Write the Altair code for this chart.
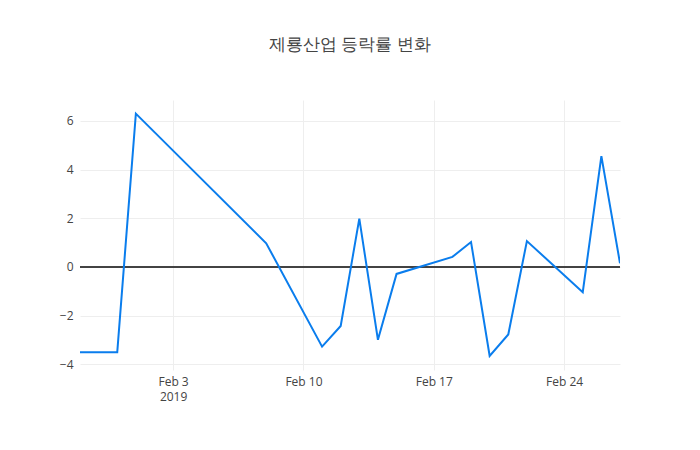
import altair as alt
import pandas as pd

dates = ["2019-01-29", "2019-01-31", "2019-02-01", "2019-02-08", "2019-02-11",
         "2019-02-12", "2019-02-13", "2019-02-14", "2019-02-15", "2019-02-18",
         "2019-02-19", "2019-02-20", "2019-02-21", "2019-02-22", "2019-02-25",
         "2019-02-26", "2019-02-27"]
values = [-3.51, -3.51, 6.30, 0.97, -3.28,
          -2.43, 1.98, -3.00, -0.29, 0.41,
          1.02, -3.66, -2.78, 1.06, -1.04,
          4.55, 0.15]
title_text = "제룡산업 등락률 변화"

df = pd.DataFrame({"date": dates, "value": values})

FONT = "Open Sans"
x_scale = alt.Scale(type="utc",
                    domain=[alt.DateTime(year=2019, month=1, date=29, utc=True),
                            alt.DateTime(year=2019, month=2, date=27, utc=True)],
                    nice=False)
y_scale = alt.Scale(domain=[-4.24, 6.86], nice=False, zero=False)

tick_vals = [alt.DateTime(year=2019, month=2, date=d, utc=True) for d in (3, 10, 17, 24)]

line = alt.Chart(df).mark_line(color="#0a7ded", strokeWidth=2, clip=True).encode(
    x=alt.X("date:T", scale=x_scale, title=None,
            axis=alt.Axis(values=tick_vals, grid=True, gridColor="#eeeeee", domain=False,
                          ticks=False, labelPadding=6, labelFont=FONT, labelFontSize=12,
                          labelColor="#444444", labelLineHeight=15,
                          labelExpr="utcdate(datum.value) == 3 ? ['Feb 3', '2019'] : utcFormat(datum.value, '%b %-d')")),
    y=alt.Y("value:Q", scale=y_scale, title=None,
            axis=alt.Axis(values=[-4, -2, 0, 2, 4, 6], grid=True, gridColor="#eeeeee",
                          domain=False, ticks=False, labelPadding=7, labelFont=FONT,
                          labelFontSize=12, labelColor="#444444",
                          labelExpr="replace(datum.label, '-', '\u2212')")),
)

zero = alt.Chart(df).mark_rule(color="#444444", strokeWidth=1).encode(
    y=alt.datum(0, scale=y_scale)
)

chart = alt.layer(zero, line).properties(
    width=540, height=270,
    padding={"left": 72, "top": 92, "right": 72, "bottom": 72},
    autosize=alt.AutoSizeParams(type="none"),
    title=alt.TitleParams(title_text, font=FONT, fontSize=17, color="#444444",
                          fontWeight="normal", anchor="middle", offset=46),
).configure_view(stroke=None)

chart.save("out.html", embed_options={"renderer": "svg", "actions": False})
